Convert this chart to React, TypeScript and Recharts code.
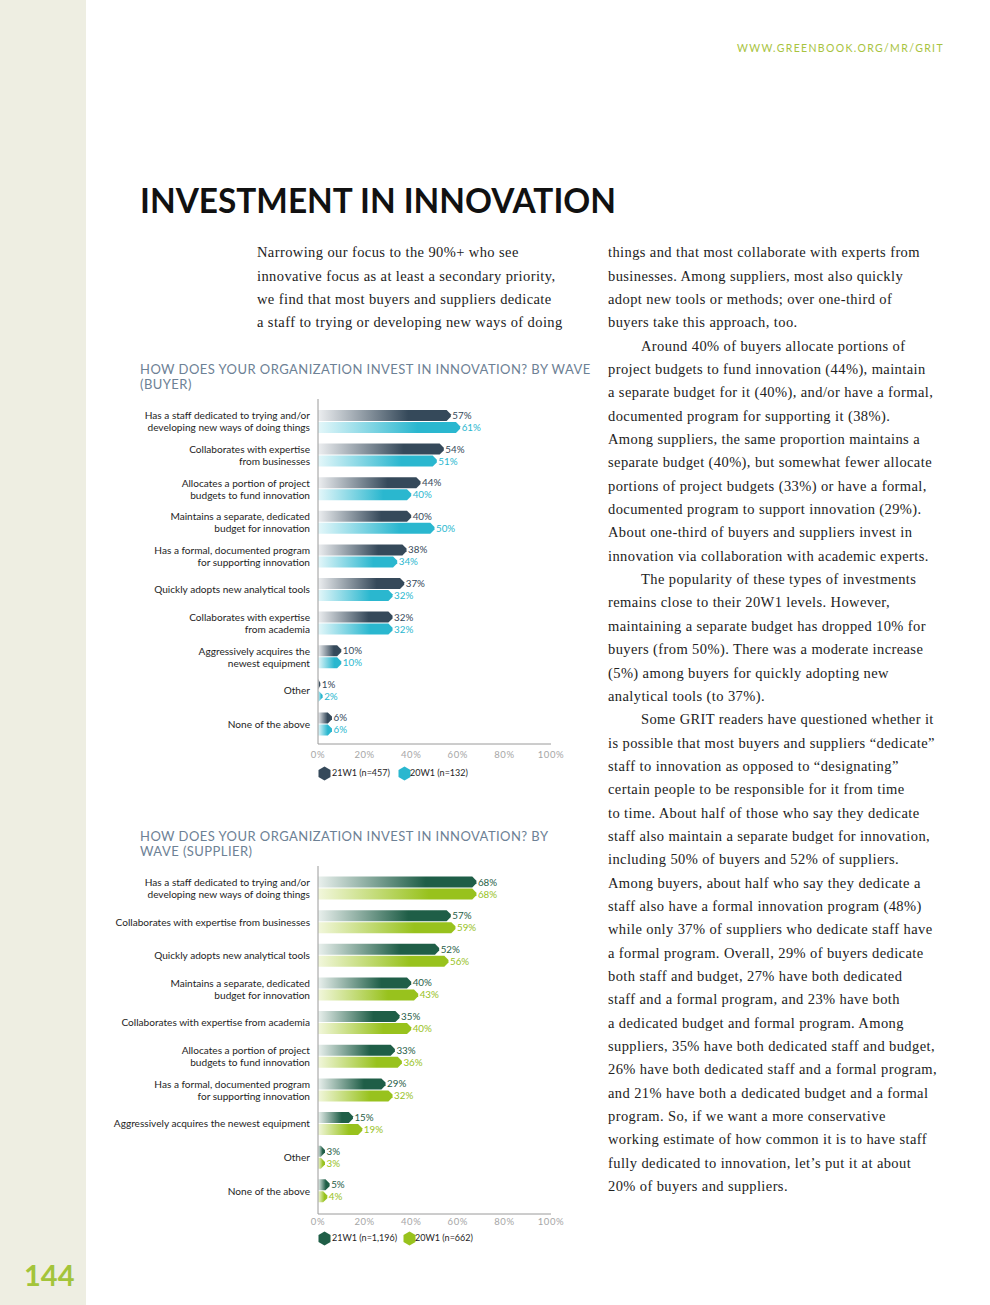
import React from 'react';
import { BarChart, Bar, XAxis, YAxis, LabelList, Legend } from 'recharts';

const buyerCategories = [
  'Has a staff dedicated to trying and/or\ndeveloping new ways of doing things',
  'Collaborates with expertise\nfrom businesses',
  'Allocates a portion of project\nbudgets to fund innovation',
  'Maintains a separate, dedicated\nbudget for innovation',
  'Has a formal, documented program\nfor supporting innovation',
  'Quickly adopts new analytical tools',
  'Collaborates with expertise\nfrom academia',
  'Aggressively acquires the\nnewest equipment',
  'Other',
  'None of the above',
];
const buyer21W1 = [57, 54, 44, 40, 38, 37, 32, 10, 1, 6];
const buyer20W1 = [61, 51, 40, 50, 34, 32, 32, 10, 2, 6];

const supplierCategories = [
  'Has a staff dedicated to trying and/or\ndeveloping new ways of doing things',
  'Collaborates with expertise from businesses',
  'Quickly adopts new analytical tools',
  'Maintains a separate, dedicated\nbudget for innovation',
  'Collaborates with expertise from academia',
  'Allocates a portion of project\nbudgets to fund innovation',
  'Has a formal, documented program\nfor supporting innovation',
  'Aggressively acquires the newest equipment',
  'Other',
  'None of the above',
];
const supplier21W1 = [68, 57, 52, 40, 35, 33, 29, 15, 3, 5];
const supplier20W1 = [68, 59, 56, 43, 40, 36, 32, 19, 3, 4];

const xTicks = [0, 20, 40, 60, 80, 100];
const buyerLegend = ['21W1 (n=457)', '20W1 (n=132)'];
const supplierLegend = ['21W1 (n=1,196)', '20W1 (n=662)'];

const leftParagraph = [
  'Narrowing our focus to the 90%+ who see',
  'innovative focus as at least a secondary priority,',
  'we find that most buyers and suppliers dedicate',
  'a staff to trying or developing new ways of doing',
];

const rightParagraph: [string, boolean][] = [
  ['things and that most collaborate with experts from', false],
  ['businesses. Among suppliers, most also quickly', false],
  ['adopt new tools or methods; over one-third of', false],
  ['buyers take this approach, too.', false],
  ['Around 40% of buyers allocate portions of', true],
  ['project budgets to fund innovation (44%), maintain', false],
  ['a separate budget for it (40%), and/or have a formal,', false],
  ['documented program for supporting it (38%).', false],
  ['Among suppliers, the same proportion maintains a', false],
  ['separate budget (40%), but somewhat fewer allocate', false],
  ['portions of project budgets (33%) or have a formal,', false],
  ['documented program to support innovation (29%).', false],
  ['About one-third of buyers and suppliers invest in', false],
  ['innovation via collaboration with academic experts.', false],
  ['The popularity of these types of investments', true],
  ['remains close to their 20W1 levels. However,', false],
  ['maintaining a separate budget has dropped 10% for', false],
  ['buyers (from 50%). There was a moderate increase', false],
  ['(5%) among buyers for quickly adopting new', false],
  ['analytical tools (to 37%).', false],
  ['Some GRIT readers have questioned whether it', true],
  ['is possible that most buyers and suppliers \u201cdedicate\u201d', false],
  ['staff to innovation as opposed to \u201cdesignating\u201d', false],
  ['certain people to be responsible for it from time', false],
  ['to time. About half of those who say they dedicate', false],
  ['staff also maintain a separate budget for innovation,', false],
  ['including 50% of buyers and 52% of suppliers.', false],
  ['Among buyers, about half who say they dedicate a', false],
  ['staff also have a formal innovation program (48%)', false],
  ['while only 37% of suppliers who dedicate staff have', false],
  ['a formal program. Overall, 29% of buyers dedicate', false],
  ['both staff and budget, 27% have both dedicated', false],
  ['staff and a formal program, and 23% have both', false],
  ['a dedicated budget and formal program. Among', false],
  ['suppliers, 35% have both dedicated staff and budget,', false],
  ['26% have both dedicated staff and a formal program,', false],
  ['and 21% have both a dedicated budget and a formal', false],
  ['program. So, if we want a more conservative', false],
  ['working estimate of how common it is to have staff', false],
  ['fully dedicated to innovation, let\u2019s put it at about', false],
  ['20% of buyers and suppliers.', false],
];

const buyerData = buyerCategories.map((cat, i) => ({ cat, w21: buyer21W1[i], w20: buyer20W1[i] }));
const supplierData = supplierCategories.map((cat, i) => ({ cat, w21: supplier21W1[i], w20: supplier20W1[i] }));

const SANS = 'Lato, "Open Sans", sans-serif';
const SERIF = '"Liberation Serif", "DejaVu Serif", serif';

const TipBar = (props: any) => {
  const { x, y, width, height, fill } = props;
  if (width == null || !(width > 0)) return null;
  const t = Math.min(height * 0.38, width);
  const d = `M${x},${y} H${x + width - t} L${x + width},${y + height * 0.38} V${y + height * 0.62} L${x + width - t},${y + height} H${x} Z`;
  return <path d={d} fill={fill} />;
};

const makeLabel = (color: string) => (p: any) => {
  const vb = p.viewBox || p;
  const x = (vb.x ?? p.x) + (vb.width ?? p.width ?? 0);
  const y = (vb.y ?? p.y) + (vb.height ?? p.height ?? 0) / 2;
  return (
    <text x={x + 1.5} y={y} dy="0.36em" fill={color} fontSize={9.8} fontFamily={SANS}>
      {`${p.value}%`}
    </text>
  );
};

const CatTick = (p: any) => {
  const { x, y, payload } = p;
  const lines = String(payload.value).split('\n');
  const lh = 12;
  const start = y - ((lines.length - 1) * lh) / 2;
  return (
    <text x={x} y={start} textAnchor="end" fontSize={10.1} fill="#1e1e1e" fontFamily={SANS}>
      {lines.map((l, i) => (
        <tspan key={i} x={x} y={start + i * lh} dy="0.35em">
          {l}
        </tspan>
      ))}
    </text>
  );
};

const Hex = ({ color }: { color: string }) => (
  <svg width={13} height={15} style={{ display: 'block' }}>
    <polygon points="6.5,0.5 12.5,4 12.5,11 6.5,14.5 0.5,11 0.5,4" fill={color} />
  </svg>
);

const makeLegend = (labels: string[], colors: string[], secondLeft: number) => () => (
  <div style={{ position: 'relative', height: 16, width: 200, fontFamily: SANS, fontSize: 9, color: '#1e1e1e' }}>
    <div style={{ position: 'absolute', left: 0, top: 0.5 }}>
      <Hex color={colors[0]} />
    </div>
    <div style={{ position: 'absolute', left: 14, top: 0, lineHeight: '16px', whiteSpace: 'nowrap' }}>{labels[0]}</div>
    <div style={{ position: 'absolute', left: secondLeft, top: 0.5 }}>
      <Hex color={colors[1]} />
    </div>
    <div style={{ position: 'absolute', left: secondLeft + 12, top: 0, lineHeight: '16px', whiteSpace: 'nowrap' }}>{labels[1]}</div>
  </div>
);

type ChartProps = {
  data: any[];
  darkColor: string;
  lightColor: string;
  darkStart: string;
  lightStart: string;
  idPrefix: string;
  padTop: number;
  padBottom: number;
  height: number;
  xAxisHeight: number;
  tickMargin: number;
  legendLabels: string[];
  secondLeft: number;
  darkLabel: string;
  lightLabel: string;
};

const WaveChart = (c: ChartProps) => (
  <BarChart
    width={480}
    height={c.height}
    data={c.data}
    layout="vertical"
    margin={{ top: 4, right: 29, bottom: 4, left: 10 }}
    barSize={11}
    barGap={1}
  >
    <defs>
      <linearGradient id={`${c.idPrefix}Dark`} x1="0" y1="0" x2="1" y2="0">
        <stop offset="0%" stopColor={c.darkStart} />
        <stop offset="68%" stopColor={c.darkColor} />
        <stop offset="100%" stopColor={c.darkColor} />
      </linearGradient>
      <linearGradient id={`${c.idPrefix}Light`} x1="0" y1="0" x2="1" y2="0">
        <stop offset="0%" stopColor={c.lightStart} />
        <stop offset="70%" stopColor={c.lightColor} />
        <stop offset="100%" stopColor={c.lightColor} />
      </linearGradient>
    </defs>
    <XAxis
      type="number"
      domain={[0, 100]}
      ticks={xTicks}
      tickFormatter={(v: number) => `${v}%`}
      axisLine={{ stroke: '#9a9a9a', strokeWidth: 1 }}
      tickLine={false}
      tickSize={0}
      tickMargin={c.tickMargin}
      height={c.xAxisHeight}
      tick={{ fill: '#a6a6a6', fontSize: 9.5, fontFamily: SANS, letterSpacing: 0.6 }}
      interval={0}
    />
    <YAxis
      type="category"
      dataKey="cat"
      width={208}
      axisLine={{ stroke: '#9a9a9a', strokeWidth: 1 }}
      tickLine={false}
      tickSize={0}
      tickMargin={8}
      tick={<CatTick />}
      interval={0}
      padding={{ top: c.padTop, bottom: c.padBottom }}
    />
    <Legend
      verticalAlign="bottom"
      height={16}
      wrapperStyle={{ left: 218, width: 240, height: 16 }}
      content={makeLegend(c.legendLabels, [c.darkColor, c.lightColor], c.secondLeft)}
    />
    <Bar dataKey="w21" name={c.legendLabels[0]} fill={`url(#${c.idPrefix}Dark)`} shape={<TipBar />} isAnimationActive={false}>
      <LabelList dataKey="w21" content={makeLabel(c.darkLabel)} />
    </Bar>
    <Bar dataKey="w20" name={c.legendLabels[1]} fill={`url(#${c.idPrefix}Light)`} shape={<TipBar />} isAnimationActive={false}>
      <LabelList dataKey="w20" content={makeLabel(c.lightLabel)} />
    </Bar>
  </BarChart>
);

const lineH = 23.35;

export default function App() {
  return (
    <div style={{ position: 'absolute', left: 0, top: 0, width: 990, height: 1305, background: '#ffffff', overflow: 'hidden' }}>
      <div style={{ position: 'absolute', left: 0, top: 0, width: 86, height: 1305, background: '#eeeee2' }} />
      <div style={{ position: 'absolute', left: 24, top: 1259, fontFamily: SANS, fontWeight: 700, fontSize: 29, lineHeight: '32px', color: '#a3c43a' }}>144</div>
      <div style={{ position: 'absolute', left: 737, top: 41, fontFamily: SANS, fontSize: 10.5, lineHeight: '14px', letterSpacing: 1.35, color: '#a8c33e', whiteSpace: 'nowrap' }}>
        WWW.GREENBOOK.ORG/MR/GRIT
      </div>
      <div style={{ position: 'absolute', left: 140, top: 181, fontFamily: SANS, fontWeight: 700, fontSize: 33.4, lineHeight: '38px', color: '#111', whiteSpace: 'nowrap' }}>
        INVESTMENT IN INNOVATION
      </div>

      <div style={{ position: 'absolute', left: 257, top: 253 - lineH / 2, fontFamily: SERIF, fontSize: 14.5, letterSpacing: 0.4, lineHeight: `${lineH}px`, color: '#222' }}>
        {leftParagraph.map((l, i) => (
          <div key={i} style={{ whiteSpace: 'nowrap' }}>{l}</div>
        ))}
      </div>
      <div style={{ position: 'absolute', left: 608, top: 253 - lineH / 2, fontFamily: SERIF, fontSize: 14.5, letterSpacing: 0.4, lineHeight: `${lineH}px`, color: '#222' }}>
        {rightParagraph.map(([l, indent], i) => (
          <div key={i} style={{ whiteSpace: 'nowrap', paddingLeft: indent ? 33 : 0 }}>{l}</div>
        ))}
      </div>

      <div style={{ position: 'absolute', left: 140, top: 362, fontFamily: SANS, fontSize: 13, letterSpacing: 0.45, lineHeight: '15px', color: '#6d8195', whiteSpace: 'nowrap' }}>
        <div>HOW DOES YOUR ORGANIZATION INVEST IN INNOVATION? BY WAVE</div>
        <div>(BUYER)</div>
      </div>
      <div style={{ position: 'absolute', left: 100, top: 395 }}>
        <WaveChart
          data={buyerData}
          darkColor="#35495a"
          lightColor="#2ab7cf"
          darkStart="#eceef0"
          lightStart="#e4f7fa"
          idPrefix="buyer"
          padTop={6}
          padBottom={3}
          height={390}
          xAxisHeight={21}
          tickMargin={7}
          legendLabels={buyerLegend}
          secondLeft={80}
          darkLabel="#35495a"
          lightLabel="#2ab7cf"
        />
      </div>

      <div style={{ position: 'absolute', left: 140, top: 829, fontFamily: SANS, fontSize: 13, letterSpacing: 0.45, lineHeight: '15px', color: '#6d8195', whiteSpace: 'nowrap' }}>
        <div>HOW DOES YOUR ORGANIZATION INVEST IN INNOVATION? BY</div>
        <div>WAVE (SUPPLIER)</div>
      </div>
      <div style={{ position: 'absolute', left: 100, top: 862 }}>
        <WaveChart
          data={supplierData}
          darkColor="#1f5e47"
          lightColor="#98c21d"
          darkStart="#e9f0ed"
          lightStart="#f2f7dc"
          idPrefix="supplier"
          padTop={5.5}
          padBottom={6}
          height={388}
          xAxisHeight={16}
          tickMargin={4}
          legendLabels={supplierLegend}
          secondLeft={85}
          darkLabel="#1f5e47"
          lightLabel="#98c21d"
        />
      </div>
    </div>
  );
}
